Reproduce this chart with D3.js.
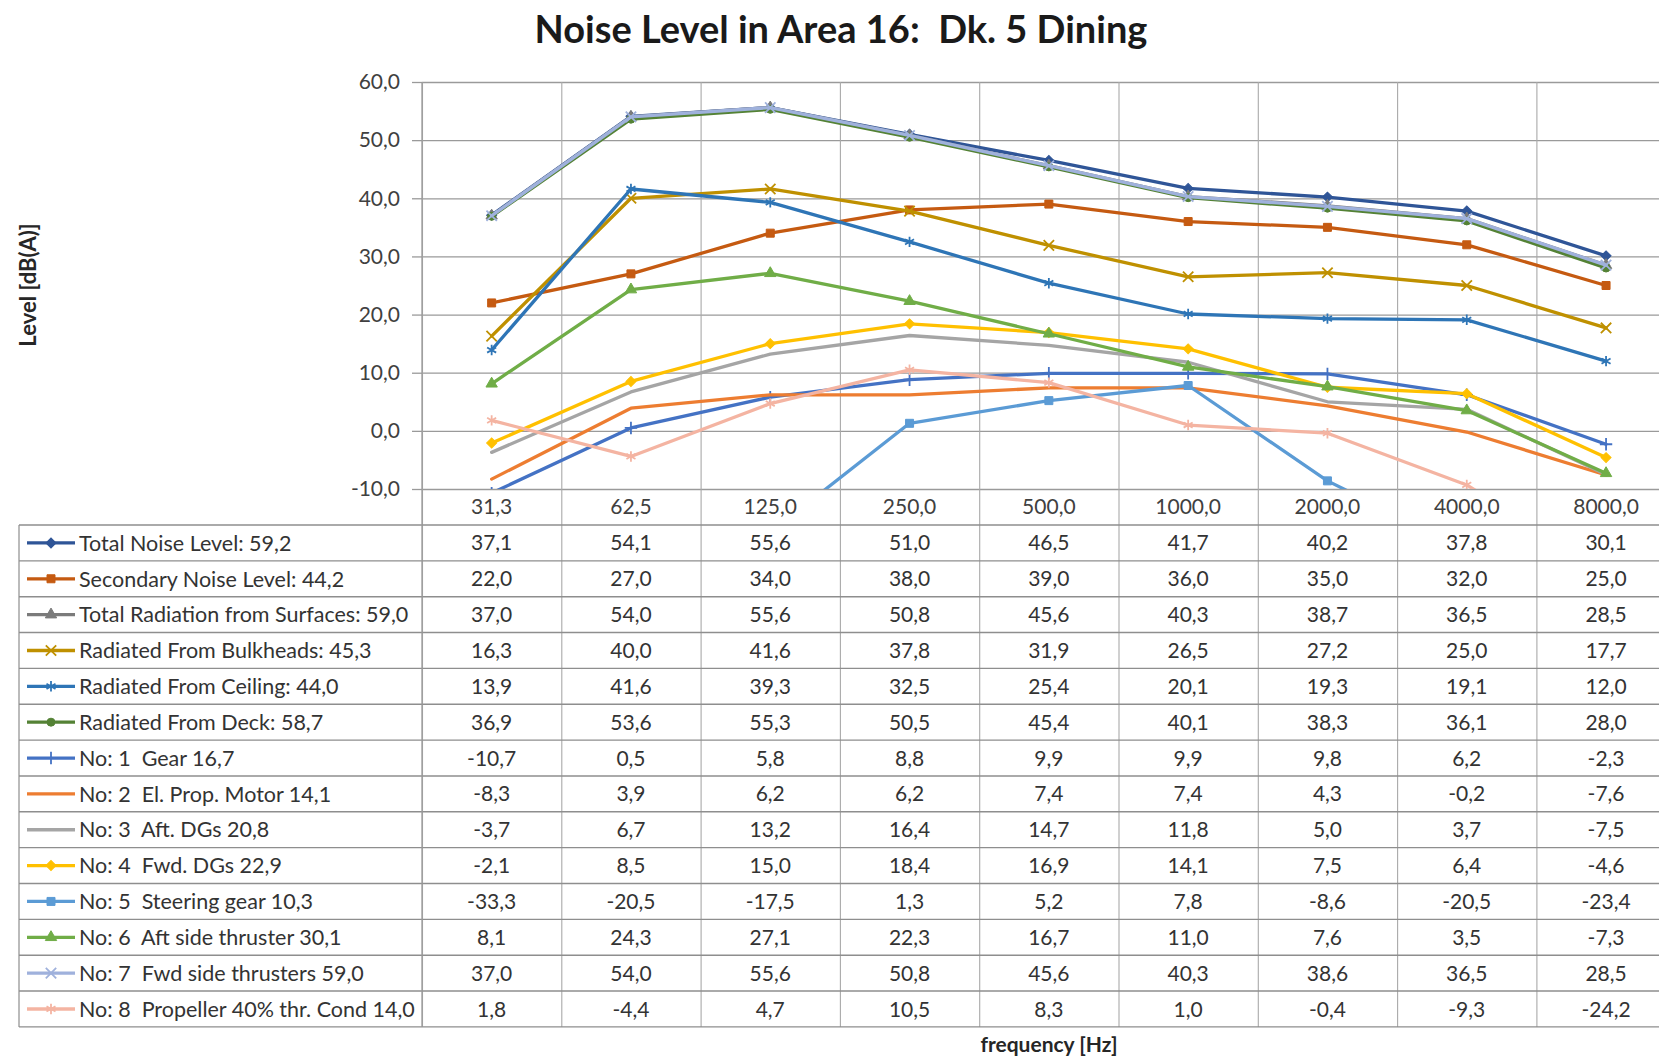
<!DOCTYPE html>
<html>
<head>
<meta charset="utf-8">
<script src="https://cdn.jsdelivr.net/npm/d3@7"></script>
<style>
  html, body { margin: 0; padding: 0; background: #fff; overflow: hidden; }
  svg { display: block; }
  text { font-family: Lato, "Open Sans", sans-serif; }
</style>
</head>
<body>
<svg id="chart" width="1659" height="1057"></svg>
<script>
// ---------------- DATA ----------------
const categories = ["31,3", "62,5", "125,0", "250,0", "500,0", "1000,0", "2000,0", "4000,0", "8000,0"];
const yTicks = [-10, 0, 10, 20, 30, 40, 50, 60];

const seriesNames = [
  "Total Noise Level: ",
  "Secondary Noise Level: ",
  "Total Radiation from Surfaces: ",
  "Radiated From Bulkheads: ",
  "Radiated From Ceiling: ",
  "Radiated From Deck: ",
  "No: 1  Gear ",
  "No: 2  El. Prop. Motor ",
  "No: 3  Aft. DGs ",
  "No: 4  Fwd. DGs ",
  "No: 5  Steering gear ",
  "No: 6  Aft side thruster ",
  "No: 7  Fwd side thrusters ",
  "No: 8  Propeller 40% thr. Cond "
];
const seriesTotals = [59.2, 44.2, 59.0, 45.3, 44.0, 58.7, 16.7, 14.1, 20.8, 22.9, 10.3, 30.1, 59.0, 14.0];

const totalNoise     = [37.1, 54.1, 55.6, 51.0, 46.5, 41.7, 40.2, 37.8, 30.1];
const secondaryNoise = [22.0, 27.0, 34.0, 38.0, 39.0, 36.0, 35.0, 32.0, 25.0];
const totalRadiation = [37.0, 54.0, 55.6, 50.8, 45.6, 40.3, 38.7, 36.5, 28.5];
const fromBulkheads  = [16.3, 40.0, 41.6, 37.8, 31.9, 26.5, 27.2, 25.0, 17.7];
const fromCeiling    = [13.9, 41.6, 39.3, 32.5, 25.4, 20.1, 19.3, 19.1, 12.0];
const fromDeck       = [36.9, 53.6, 55.3, 50.5, 45.4, 40.1, 38.3, 36.1, 28.0];
const no1Gear        = [-10.7, 0.5, 5.8, 8.8, 9.9, 9.9, 9.8, 6.2, -2.3];
const no2Motor       = [-8.3, 3.9, 6.2, 6.2, 7.4, 7.4, 4.3, -0.2, -7.6];
const no3AftDGs      = [-3.7, 6.7, 13.2, 16.4, 14.7, 11.8, 5.0, 3.7, -7.5];
const no4FwdDGs      = [-2.1, 8.5, 15.0, 18.4, 16.9, 14.1, 7.5, 6.4, -4.6];
const no5Steering    = [-33.3, -20.5, -17.5, 1.3, 5.2, 7.8, -8.6, -20.5, -23.4];
const no6AftThruster = [8.1, 24.3, 27.1, 22.3, 16.7, 11.0, 7.6, 3.5, -7.3];
const no7FwdThruster = [37.0, 54.0, 55.6, 50.8, 45.6, 40.3, 38.6, 36.5, 28.5];
const no8Propeller   = [1.8, -4.4, 4.7, 10.5, 8.3, 1.0, -0.4, -9.3, -24.2];

const seriesValues = [totalNoise, secondaryNoise, totalRadiation, fromBulkheads, fromCeiling, fromDeck,
  no1Gear, no2Motor, no3AftDGs, no4FwdDGs, no5Steering, no6AftThruster, no7FwdThruster, no8Propeller];

// ---------------- STYLE ----------------
const seriesColors = ["#2F5597", "#C55A11", "#7B7B7B", "#BF9000", "#2E75B6", "#548235",
  "#4472C4", "#ED7D31", "#A5A5A5", "#FFC000", "#5B9BD5", "#70AD47", "#9FB1DC", "#F4B4A2"];
const seriesMarkers = ["diamond", "square", "triangle", "x", "asterisk", "circle",
  "plus", "none", "none", "diamond", "square", "triangle", "x", "asterisk"];

const fmt = v => v.toFixed(1).replace(".", ",");

const W = 1659, H = 1057;
const plotLeft = 422, colW = 139.3, plotW = colW * categories.length;
const yTop = 82, yBot = 489;
const tableTop = 525, rowH = 35.85, tableBottom = tableTop + rowH * seriesNames.length;
const legendLeft = 19;
const font = "Lato, 'Open Sans', sans-serif";

const svg = d3.select("#chart");
svg.append("rect").attr("width", W).attr("height", H).attr("fill", "#fff");

const x = d3.scaleBand().domain(categories).range([plotLeft, plotLeft + plotW]).padding(0);
const xIdx = d3.scaleLinear().domain([0, categories.length]).range([plotLeft, plotLeft + plotW]);
const y = d3.scaleLinear().domain([-10, 60]).range([yBot, yTop]);
const cx = c => x(c) + x.bandwidth() / 2;

// horizontal gridlines
const gridY = svg.append("g").attr("transform", `translate(${plotLeft},0)`)
  .call(d3.axisLeft(y).tickValues(yTicks).tickSize(-plotW).tickFormat(""));
gridY.select(".domain").remove();
gridY.selectAll("line").attr("stroke", "#9a9a9a").attr("stroke-width", 1.3);

// vertical gridlines (through table)
const gridX = svg.append("g").attr("transform", `translate(0,${yTop})`)
  .call(d3.axisTop(xIdx).tickValues(d3.range(0, categories.length + 1)).tickSize(-(tableBottom - yTop)).tickFormat(""));
gridX.select(".domain").remove();
gridX.selectAll("line").attr("stroke", "#a9a9a9").attr("stroke-width", 1.1);

// table horizontal lines
const rowIdx = d3.range(0, seriesNames.length + 1);
svg.append("g").selectAll("line").data(rowIdx).join("line")
  .attr("x1", legendLeft).attr("x2", W)
  .attr("y1", i => tableTop + i * rowH).attr("y2", i => tableTop + i * rowH)
  .attr("stroke", "#8e8e8e").attr("stroke-width", 1.4);
svg.append("line").attr("x1", legendLeft).attr("x2", legendLeft)
  .attr("y1", tableTop).attr("y2", tableBottom).attr("stroke", "#8e8e8e").attr("stroke-width", 1.2);

// y axis with labels and small outer ticks
const yAxis = svg.append("g").attr("transform", `translate(${plotLeft},0)`)
  .call(d3.axisLeft(y).tickValues(yTicks).tickSize(10).tickPadding(12).tickFormat(fmt));
yAxis.select(".domain").remove();
yAxis.selectAll("line").attr("stroke", "#9a9a9a").attr("stroke-width", 1.3);
yAxis.selectAll("text").attr("font-family", font).attr("font-size", 21).attr("fill", "#404040");
svg.append("line").attr("x1", plotLeft).attr("x2", plotLeft).attr("y1", yTop).attr("y2", tableBottom)
  .attr("stroke", "#9a9a9a").attr("stroke-width", 1.3);

// x axis category labels
const xAxis = svg.append("g").attr("transform", `translate(0,${yBot})`)
  .call(d3.axisBottom(x).tickSize(0).tickPadding(10));
xAxis.select(".domain").remove();
xAxis.selectAll("text").attr("font-family", font).attr("font-size", 21).attr("fill", "#404040");

// marker helper
function markerPath(type) {
  const map = {
    square: [d3.symbolSquare, 64], triangle: [d3.symbolTriangle, 56], circle: [d3.symbolCircle, 50],
    x: [d3.symbolX, 72], asterisk: [d3.symbolAsterisk, 76], plus: [d3.symbolPlus, 52], diamond: [d3.symbolSquare, 50]
  };
  const m = map[type];
  return d3.symbol().type(m[0]).size(m[1])();
}
const strokeMarkers = new Set(["x", "asterisk", "plus"]);
function drawMarker(g, type, color, px, py) {
  if (type === "none") return;
  const p = g.append("path").attr("d", markerPath(type))
    .attr("transform", `translate(${px},${py})` + (type === "diamond" ? " rotate(45)" : ""));
  if (strokeMarkers.has(type)) p.attr("fill", "none").attr("stroke", color).attr("stroke-width", 1.8);
  else p.attr("fill", color).attr("stroke", color).attr("stroke-width", 1);
}

// series
const series = seriesNames.map((n, i) => ({
  name: n, total: seriesTotals[i], values: seriesValues[i], color: seriesColors[i], marker: seriesMarkers[i]
}));

svg.append("clipPath").attr("id", "plotClip").append("rect")
  .attr("x", plotLeft).attr("y", yTop - 20).attr("width", plotW + 50).attr("height", yBot - yTop + 20);

const plot = svg.append("g").attr("clip-path", "url(#plotClip)");
const line = d3.line().x((d, i) => cx(categories[i])).y(d => y(d));
series.forEach(s => {
  const g = plot.append("g");
  g.append("path").attr("d", line(s.values)).attr("fill", "none")
    .attr("stroke", s.color).attr("stroke-width", 3.3).attr("stroke-linejoin", "round").attr("stroke-linecap", "round");
  s.values.forEach((v, i) => drawMarker(g, s.marker, s.color, cx(categories[i]), y(v)));
});

// table: legend keys, names, values
series.forEach((s, r) => {
  const rc = tableTop + rowH * r + rowH / 2;
  const g = svg.append("g");
  g.append("line").attr("x1", 27).attr("x2", 75).attr("y1", rc).attr("y2", rc)
    .attr("stroke", s.color).attr("stroke-width", 3.3);
  drawMarker(g, s.marker, s.color, 51, rc);
  g.append("text").attr("x", 79).attr("y", rc).attr("dy", "0.36em")
    .style("white-space", "pre")
    .attr("font-family", font).attr("font-size", 21.5).attr("fill", "#333")
    .text(s.name + fmt(s.total));
  g.selectAll("text.val").data(s.values).join("text").attr("class", "val")
    .attr("x", (d, i) => cx(categories[i])).attr("y", rc).attr("dy", "0.36em")
    .attr("text-anchor", "middle").attr("font-family", font).attr("font-size", 21).attr("fill", "#333")
    .text(d => fmt(d));
});

// titles
svg.append("text").attr("x", 841).attr("y", 43).attr("text-anchor", "middle")
  .style("white-space", "pre")
  .attr("font-family", font).attr("font-weight", "bold").attr("font-size", 38).attr("fill", "#1a1a1a")
  .text("Noise Level in Area 16:  Dk. 5 Dining");
svg.append("text").attr("transform", "translate(36,285) rotate(-90)").attr("text-anchor", "middle")
  .attr("font-family", font).attr("font-weight", "bold").attr("font-size", 22).attr("fill", "#262626")
  .text("Level [dB(A)]");
svg.append("text").attr("x", 1049).attr("y", 1052).attr("text-anchor", "middle")
  .attr("font-family", font).attr("font-weight", "bold").attr("font-size", 21).attr("fill", "#262626")
  .text("frequency [Hz]");
</script>
</body>
</html>
